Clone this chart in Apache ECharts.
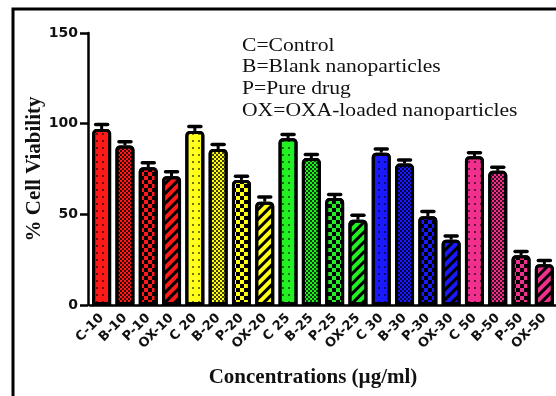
<!DOCTYPE html>
<html>
<head>
<meta charset="utf-8">
<script src="https://cdn.jsdelivr.net/npm/echarts@6/dist/echarts.min.js"></script>
<style>
  html, body { margin: 0; padding: 0; background: #fff; }
  #chart { width: 556px; height: 396px; }
</style>
</head>
<body>
<div id="chart"></div>
<script>
  // data
  var categories = ['C-10', 'B-10', 'P-10', 'OX-10', 'C 20', 'B-20', 'P-20', 'OX-20',
    'C 25', 'B-25', 'P-25', 'OX-25', 'C 30', 'B-30', 'P-30', 'OX-30',
    'C 50', 'B-50', 'P-50', 'OX-50'];
  var viability = [97, 88, 76, 71, 96, 86, 69, 57, 92, 81, 59, 47, 84, 78, 49, 36, 82, 74, 27.5, 22.5];
  var errors = [2.5, 2, 2.5, 2.5, 2.5, 2.5, 2, 2.5, 2, 2, 2, 2.5, 2, 2, 2.5, 2, 2, 2, 2, 2];
  var yTicks = [0, 50, 100, 150];
  var legendLines = ['C=Control', 'B=Blank nanoparticles', 'P=Pure drug', 'OX=OXA-loaded nanoparticles'];

  var groupColors = ['#ff1a1a', '#ffff1a', '#22f022', '#1a1aff', '#f0308c'];
  var patterns = {
    C: { symbol: 'rect', symbolSize: 1, dashArrayX: [2, 4], dashArrayY: [2, 5], color: 'rgba(0,0,0,0.55)' },
    B: { symbol: 'rect', symbolSize: 1, dashArrayX: [[2, 2], [0, 2, 2, 0]], dashArrayY: [2, 0], color: 'rgba(0,0,0,0.75)' },
    P: { symbol: 'rect', symbolSize: 1, dashArrayX: [[4, 4], [0, 4, 4, 0]], dashArrayY: [4, 0], color: '#000' },
    OX: { symbol: 'rect', symbolSize: 1, dashArrayX: [1, 0], dashArrayY: [3, 4], rotation: -Math.PI / 4, color: '#000' }
  };
  var kinds = ['C', 'B', 'P', 'OX'];

  var barData = viability.map(function (v, i) {
    return {
      value: v,
      itemStyle: {
        color: groupColors[Math.floor(i / 4)],
        decal: patterns[kinds[i % 4]]
      }
    };
  });

  var chart = echarts.init(document.getElementById('chart'));
  var option = {
    animation: false,
    grid: { left: 90, top: 33, width: 469, bottom: 91 },
    graphic: [
      {
        type: 'polyline',
        shape: { points: [[13, 396], [13, 9], [556, 9]] },
        style: { stroke: '#000', lineWidth: 3, fill: null }
      },
      {
        type: 'text',
        x: 242,
        y: 35,
        scaleX: 1.2,
        style: {
          text: legendLines.join('\n'),
          font: '18px "Liberation Serif", "Times New Roman", serif',
          lineHeight: 21.8,
          fill: '#111'
        }
      }
    ],
    xAxis: {
      type: 'category',
      data: categories,
      name: 'Concentrations (\u00b5g/ml)',
      nameLocation: 'middle',
      nameGap: 62,
      nameTextStyle: {
        fontFamily: 'Liberation Serif', fontWeight: 'bold', fontSize: 21, color: '#111',
        padding: [0, 20, 0, 0]
      },
      axisLine: { lineStyle: { color: '#000', width: 2.5 } },
      axisTick: { alignWithLabel: true, length: 7, lineStyle: { color: '#000', width: 2.5 } },
      axisLabel: {
        interval: 0,
        rotate: 45,
        margin: 11,
        fontFamily: 'DejaVu Sans',
        fontWeight: 'bold',
        fontSize: 13,
        color: '#111'
      }
    },
    yAxis: {
      type: 'value',
      min: 0,
      max: 150,
      interval: 50,
      offset: 2,
      name: '% Cell Viability',
      nameLocation: 'middle',
      nameGap: 43,
      nameMoveOverlap: false,
      nameTextStyle: { fontFamily: 'Liberation Serif', fontWeight: 'bold', fontSize: 21, color: '#111' },
      axisLine: { show: true, lineStyle: { color: '#000', width: 2.5 } },
      axisTick: { show: true, length: 8, lineStyle: { color: '#000', width: 2.5 } },
      axisLabel: {
        margin: 10,
        fontFamily: 'DejaVu Sans',
        fontWeight: 'bold',
        fontSize: 14,
        color: '#111',
        formatter: function (v) { return yTicks.indexOf(v) >= 0 ? String(v) : ''; }
      },
      splitLine: { show: false }
    },
    series: [
      {
        type: 'bar',
        data: barData,
        barWidth: 19,
        itemStyle: { borderColor: '#000', borderWidth: 3, borderRadius: [3, 3, 0, 0] }
      },
      {
        type: 'custom',
        data: viability.map(function (v, i) { return [i, v, errors[i]]; }),
        z: 3,
        renderItem: function (params, api) {
          var i = api.value(0);
          var top = api.coord([i, api.value(1) + api.value(2)]);
          var base = api.coord([i, api.value(1)]);
          return {
            type: 'group',
            children: [
              { type: 'line', shape: { x1: base[0], y1: base[1], x2: top[0], y2: top[1] }, style: { stroke: '#000', lineWidth: 3 } },
              { type: 'line', shape: { x1: top[0] - 6, y1: top[1], x2: top[0] + 6, y2: top[1] }, style: { stroke: '#000', lineWidth: 3.5, lineCap: 'round' } }
            ]
          };
        }
      }
    ]
  };
  chart.setOption(option);
</script>
</body>
</html>
